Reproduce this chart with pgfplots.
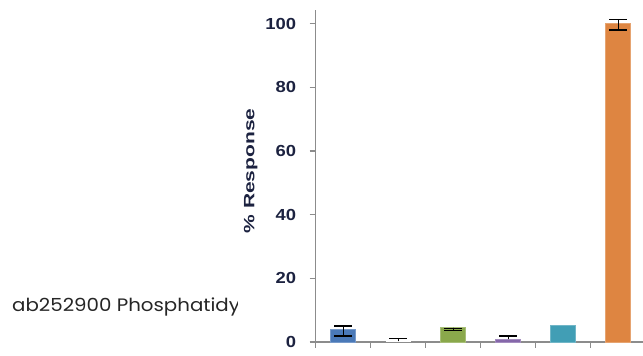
\documentclass[border=0pt]{standalone}
\usepackage{pgfplots}
\pgfplotsset{compat=1.18}
\usepackage{fontspec}
\setmainfont{Liberation Sans}
\newfontfamily\gothic{Poppins}
\definecolor{cblue}{HTML}{4A79B8}
\definecolor{cgreen}{HTML}{8AA84B}
\definecolor{cpurple}{HTML}{8567AA}
\definecolor{cteal}{HTML}{419EB5}
\definecolor{corange}{HTML}{DE8541}
\definecolor{axgray}{HTML}{8C8C8C}
\definecolor{lblcol}{HTML}{1C2240}
\begin{document}
\begin{tikzpicture}[x=1pt,y=1pt]
\useasboundingbox (0,0) rectangle (643,356);
\begin{scope}
\clip (0,0) rectangle (237,356);
\node[anchor=base west, inner sep=0pt, text=black!85] at (12,44) {\scalebox{1.1}[1]{\gothic\fontsize{18}{21}\selectfont ab252900 Phosphatidyl}};
\end{scope}
\begin{axis}[
  at={(315.7pt,14pt)}, anchor=south west,
  scale only axis, width=330pt, height=332pt,
  xmin=-0.5, xmax=5.5, ymin=0, ymax=104.3,
  axis x line*=bottom, axis y line*=left,
  axis line style={axgray, line width=1.2pt},
  tick style={axgray, line width=1.2pt},
  tick align=outside, major tick length=6pt,
  xtick={-0.5,0.5,1.5,2.5,3.5,4.5,5.5}, xticklabels={},
  ytick={0,20,40,60,80,100},
  /pgf/number format/assume math mode=true,
  yticklabel style={text=lblcol, font=\fontsize{16}{18}\selectfont\bfseries, xshift=-10pt},
  yticklabel={\scalebox{1.15}[1]{\pgfmathprintnumber{\tick}}},
  ylabel={\scalebox{1.4}[1]{\% Response}},
  ylabel style={font=\fontsize{15}{16}\selectfont\bfseries, text=lblcol, at={(rel axis cs:0,0.515)}, anchor=center, yshift=65pt},
  ybar, bar width=24.7pt, bar shift=0pt,
  error bars/y dir=both, error bars/y explicit,
  error bars/error mark=|,
  error bars/error mark options={black, mark size=8.8pt, line width=1.3pt},
  error bars/error bar style={black, line width=1.3pt},
  clip=false,
]
\addplot[fill=cblue, draw=cblue!75!white, line width=0.8pt] coordinates {(0,4.0) += (0,1.0) -= (0,2.1)};
\addplot[fill=white, draw=none, error bars/y dir=plus] coordinates {(1,0.2) += (0,0.95) -= (0,0.2)};
\addplot[fill=cgreen, draw=cgreen!75!white, line width=0.8pt] coordinates {(2,4.5) += (0,-0.3) -= (0,0.9)};
\addplot[fill=cpurple, draw=cpurple!75!white, line width=0.8pt, error bars/y dir=plus] coordinates {(3,0.8) += (0,1.1) -= (0,0.8)};
\addplot[fill=cteal, draw=cteal!75!white, line width=0.8pt] coordinates {(4,5.2)};
\addplot[fill=corange, draw=corange!75!white, line width=0.8pt] coordinates {(5,100.1) += (0,1.3) -= (0,2.1)};
\end{axis}
\end{tikzpicture}
\end{document}
